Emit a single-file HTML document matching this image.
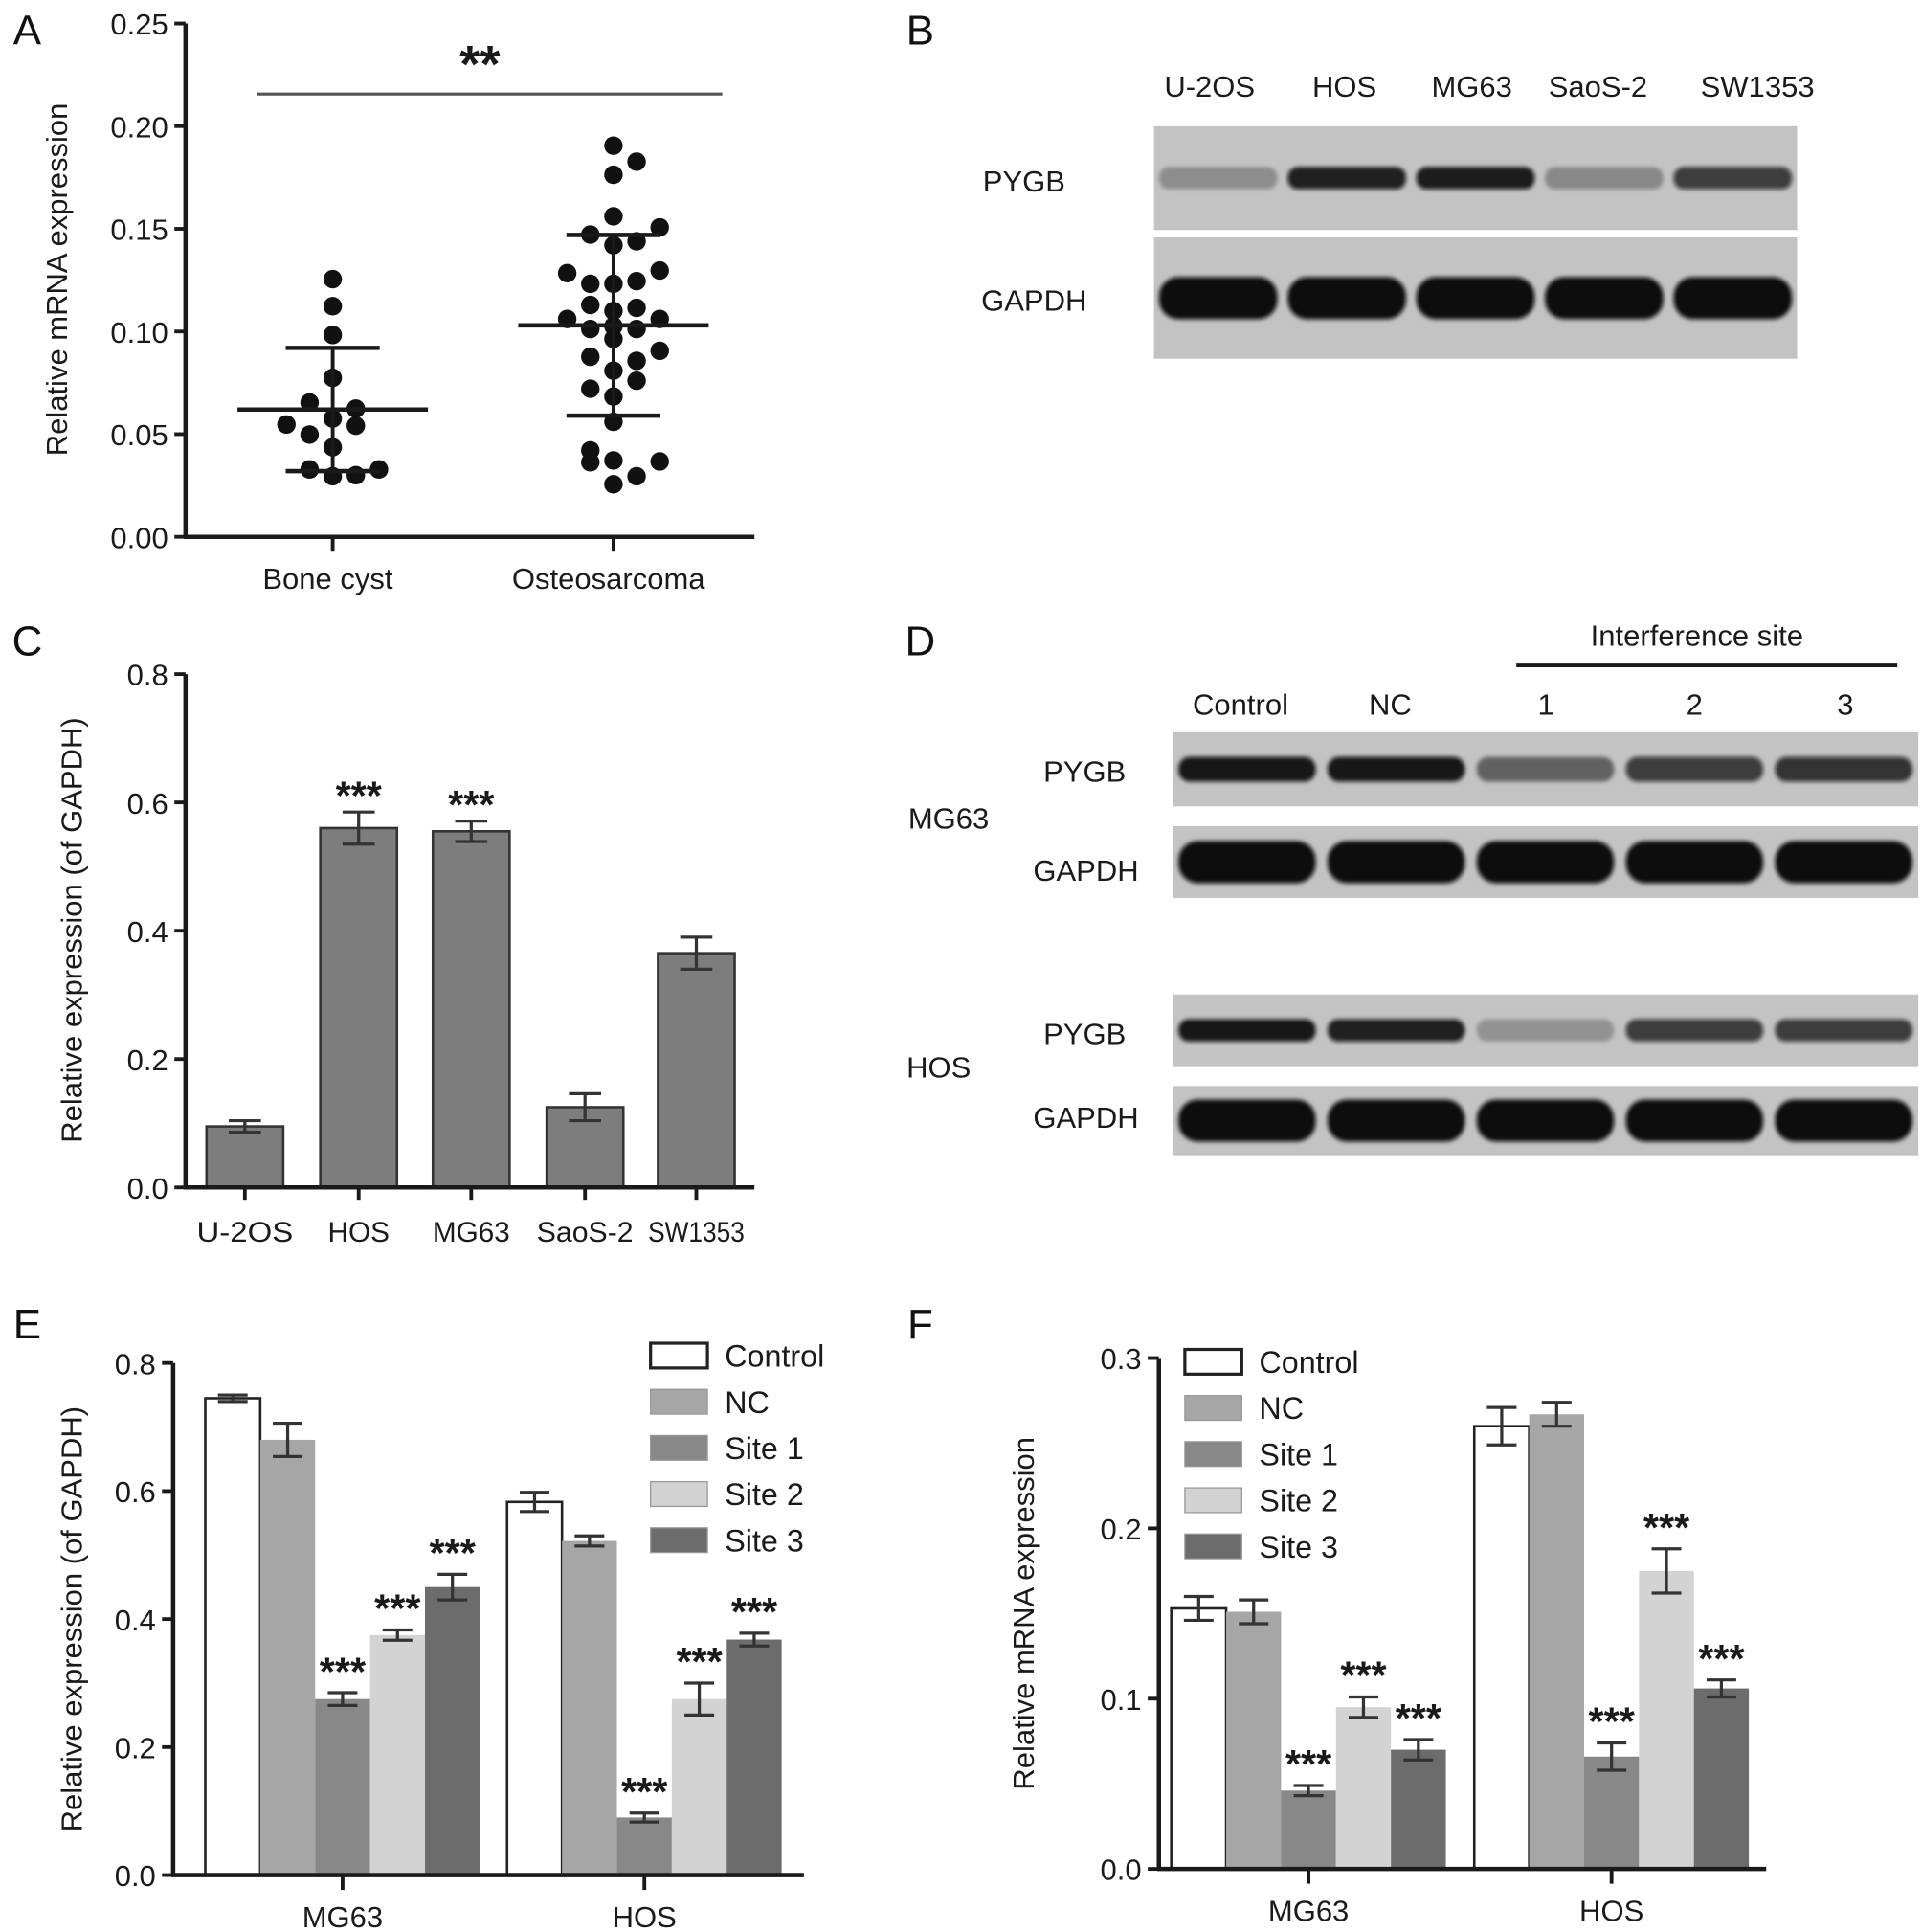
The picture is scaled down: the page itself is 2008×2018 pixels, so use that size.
<!DOCTYPE html>
<html><head><meta charset="utf-8"><style>
html,body{margin:0;padding:0;background:#fff;}
svg{display:block;font-family:"Liberation Sans",Arial,sans-serif;}
</style></head><body>
<svg id="fig" width="2008" height="2018" viewBox="0 0 1554 1562" preserveAspectRatio="none" xmlns="http://www.w3.org/2000/svg">
<defs><filter id="blur" x="-20%" y="-50%" width="140%" height="200%"><feGaussianBlur stdDeviation="1.6"/></filter></defs>
<g id="root"></g>
</svg>
<script>
// ---------- Panel A data ----------
const aCategories = ["Bone cyst","Osteosarcoma"];
const aBoneValues = [0.1255,0.1123,0.0983,0.0774,0.0654,0.0624,0.0576,0.0547,0.0541,0.0498,0.0436,0.0328,0.0328,0.0295,0.0300];
const aBoneSlots  = [0,0,0,0,-1,1,0,-2,1,-1,0,-1,2,0,1];
const aOsteoValues = [0.1905,0.1827,0.1763,0.1561,0.1507,0.1472,0.1439,0.1420,0.1284,0.1297,0.1232,0.1232,0.1245,0.1129,0.1100,0.1115,0.1061,0.1061,0.1012,0.1026,0.1012,0.0964,0.0877,0.0906,0.0857,0.0809,0.0760,0.0721,0.0683,0.0560,0.0421,0.0363,0.0372,0.0367,0.0295,0.0256];
const aOsteoSlots  = [0,1,0,0,2,-1,1,0,-2,2,-1,0,1,-1,0,1,-2,2,-1,0,1,0,-1,2,1,0,1,-1,0,0,-1,-1,0,2,1,0];
const aMeans = [0.062,0.103];
const aSdHigh = [0.092,0.147];
const aSdLow = [0.032,0.059];
const aTicks = ["0.00","0.05","0.10","0.15","0.20","0.25"];
// ---------- Panel C data ----------
const cCategories = ["U-2OS","HOS","MG63","SaoS-2","SW1353"];
const cValues = [0.095,0.560,0.555,0.125,0.365];
const cErrors = [0.009,0.025,0.016,0.021,0.025];
const cStars = ["","***","***","",""];
const cTicks = ["0.0","0.2","0.4","0.6","0.8"];
// ---------- Panel E data ----------
const groups = ["MG63","HOS"];
const seriesNames = ["Control","NC","Site 1","Site 2","Site 3"];
const eValues = [[0.745,0.680,0.275,0.375,0.450],[0.583,0.522,0.090,0.275,0.368]];
const eErrors = [[0.005,0.026,0.010,0.008,0.020],[0.015,0.008,0.007,0.025,0.010]];
const eTicks = ["0.0","0.2","0.4","0.6","0.8"];
// ---------- Panel F data ----------
const fValues = [[0.153,0.151,0.046,0.095,0.070],[0.260,0.267,0.066,0.175,0.106]];
const fErrors = [[0.007,0.007,0.003,0.006,0.006],[0.011,0.007,0.008,0.013,0.005]];
const fTicks = ["0.0","0.1","0.2","0.3"];
const starFlags = [0,0,1,1,1];
// ---------- Blots ----------
const bLanes = ["U-2OS","HOS","MG63","SaoS-2","SW1353"];
const bPygb = [0.28,0.9,0.92,0.3,0.75];
const bGapdh = [1,1,1,1,1];
const dLanes = ["Control","NC","1","2","3"];
const dMgPygb = [0.95,0.95,0.5,0.75,0.8];
const dMgGapdh = [1,1,1,1,1];
const dHosPygb = [0.95,0.9,0.25,0.75,0.75];
const dHosGapdh = [1,1,1,1,1];

const NS="http://www.w3.org/2000/svg";
const root=document.getElementById('root');
function mk(tag,attrs,parent,text){const e=document.createElementNS(NS,tag);for(const k in attrs)e.setAttribute(k,attrs[k]);if(text!==undefined)e.textContent=text;(parent||root).appendChild(e);return e;}
function grp(name,parent){const g=mk('g',{},parent);return g;}
function txt(parent,name,x,y,s,size,anchor,extra){const t=mk('text',Object.assign({x:x,y:y,'font-size':size,'text-anchor':anchor||'middle',fill:'#1a1a1a'},extra||{}),parent,s);return t;}
function line(p,x1,y1,x2,y2,w,c){return mk('line',{x1:x1,y1:y1,x2:x2,y2:y2,stroke:c||'#1a1a1a','stroke-width':w||3},p);}

[["A",22,36],["B",744,36],["C",22,530],["D",744,530],["E",22,1082],["F",744,1082]].forEach(l=>{txt(root,'panel-label-'+l[0].toLowerCase(),l[1],l[2],l[0],34,'middle',{fill:'#111'});});

function yAxis(g,x,y0,y1,ticks,tickVal,scale){
  line(g,x,y0+1.5,x,y1,3.5);
  ticks.forEach((t,i)=>{const y=scale(tickVal(i));line(g,x-9,y,x,y,3);txt(g,'y-tick-label',x-14,y+9,t,24,'end');});
}

// ===== Panel A =====
(function(){
  const g=grp('panel-a-scatter');
  const ax=150, y0=434, yTop=19, x1=610;
  const y=v=>y0-(v/0.25)*(y0-yTop);
  const xc=[269,496], slot=18.7;
  yAxis(g,ax,y0,yTop,aTicks,i=>i*0.05,y);
  line(g,ax-1.5,y0,x1,y0,3.5);
  aCategories.forEach((c,i)=>{line(g,xc[i],y0,xc[i],y0+12,3);txt(g,'x-tick-label',xc[i]-4,y0+42,c,24);});
  const at=txt(g,'y-axis-title',0,0,'Relative mRNA expression',24,'middle');at.setAttribute('transform','translate(54,226) rotate(-90)');
  line(g,208,76,584,76,2.5,'#555');
  txt(g,'significance-stars',388,66,'**',42,'middle',{'font-weight':'bold'});
  [[aBoneValues,aBoneSlots],[aOsteoValues,aOsteoSlots]].forEach((s,gi)=>{
    s[0].forEach((v,i)=>{const c=mk('circle',{cx:xc[gi]+s[1][i]*slot,cy:y(v),r:7.5,fill:'#111'},g);});
    line(g,xc[gi]-77,y(aMeans[gi]),xc[gi]+77,y(aMeans[gi]),3.5);
    line(g,xc[gi],y(aSdHigh[gi]),xc[gi],y(aSdLow[gi]),3);
    line(g,xc[gi]-38,y(aSdHigh[gi]),xc[gi]+38,y(aSdHigh[gi]),3.5);
    line(g,xc[gi]-38,y(aSdLow[gi]),xc[gi]+38,y(aSdLow[gi]),3.5);
  });
})();

// ===== Blots =====
function blot(g,name,x,y,w,h,vals,bandH){
  const bg=mk('rect',{x:x,y:y,width:w,height:h,fill:'#c3c3c3'},g);
  const lw=w/vals.length;
  vals.forEach((v,i)=>{const b=mk('rect',{x:x+i*lw+lw*0.04,y:y+h/2-bandH/2,width:lw*0.92,height:bandH,rx:bandH/2.2,fill:'#0a0a0a','fill-opacity':v,filter:'url(#blur)'},g);});
}
(function(){
  const g=grp('panel-b-blot');
  const xs=[978,1087,1190,1292,1421];
  bLanes.forEach((l,i)=>txt(g,'lane-label',xs[i],78,l,24));
  blot(g,'pygb-blot',933,102,520,84,bPygb,18);
  blot(g,'gapdh-blot',933,192,520,98,bGapdh,34);
  txt(g,'row-label-pygb',828,155,'PYGB',24);
  txt(g,'row-label-gapdh',836,251,'GAPDH',24);
})();
(function(){
  const g=grp('panel-d-blot');
  txt(g,'interference-site-label',1372,522,'Interference site',24);
  line(g,1226,538,1534,538,3);
  const xs=[1003,1124,1250,1370,1492];
  dLanes.forEach((l,i)=>txt(g,'lane-label',xs[i],578,l,24));
  blot(g,'mg63-pygb-blot',948,592,603,60,dMgPygb,20);
  blot(g,'mg63-gapdh-blot',948,668,603,58,dMgGapdh,34);
  blot(g,'hos-pygb-blot',948,804,603,58,dHosPygb,18);
  blot(g,'hos-gapdh-blot',948,878,603,56,dHosGapdh,34);
  txt(g,'row-label',877,632,'PYGB',24);
  txt(g,'row-label',878,712,'GAPDH',24);
  txt(g,'row-label',877,844,'PYGB',24);
  txt(g,'row-label',878,912,'GAPDH',24);
  txt(g,'cell-line-label',767,670,'MG63',24);
  txt(g,'cell-line-label',759,871,'HOS',24);
})();

function errBar(g,cx,yTop,yBot,hw){line(g,cx,yTop,cx,yBot,2.5,'#333');line(g,cx-hw,yTop,cx+hw,yTop,2.5,'#333');line(g,cx-hw,yBot,cx+hw,yBot,2.5,'#333');}

// ===== Panel C =====
(function(){
  const g=grp('panel-c-bars');
  const ax=150,y0=960,yTop=545,x1=610;
  const y=v=>y0-(v/0.8)*(y0-yTop);
  const xs=[198,290,381,473,563], bw=62;
  yAxis(g,ax,y0,yTop,cTicks,i=>i*0.2,y);
  cValues.forEach((v,i)=>{
    const r=mk('rect',{x:xs[i]-bw/2,y:y(v),width:bw,height:y0-y(v),fill:'#7d7d7d',stroke:'#333','stroke-width':2},g);
    errBar(g,xs[i],y(v+cErrors[i]),y(v-cErrors[i]),13);
    if(cStars[i])txt(g,'significance-stars',xs[i],y(v+cErrors[i])-2,cStars[i],32,'middle',{'font-weight':'bold'});
    line(g,xs[i],y0,xs[i],y0+10,3);
    txt(g,'x-tick-label',xs[i],y0+44,cCategories[i],23,'middle',{'textLength':cCategories[i].length>4?78:0,'lengthAdjust':'spacingAndGlyphs'});
  });
  g.querySelectorAll('text[textLength="0"]').forEach(t=>t.removeAttribute('textLength'));
  line(g,ax-1.5,y0,x1,y0,3.5);
  const at=txt(g,'y-axis-title',0,0,'Relative expression (of GAPDH)',24,'middle');at.setAttribute('transform','translate(66,752) rotate(-90)');
})();

const colors=['#ffffff','#a6a6a6','#888888','#d3d3d3','#6c6c6c'];
function groupedChart(name,ax,y0,yTop,x1,maxV,ticks,step,vals,errs,starts,bw,title,titleX,legendX,legendY){
  const g=grp(name);
  const y=v=>y0-(v/maxV)*(y0-yTop);
  yAxis(g,ax,y0,yTop,ticks,i=>i*step,y);
  vals.forEach((gv,gi)=>{
    gv.forEach((v,si)=>{
      const x=starts[gi]+si*bw;
      const r=mk('rect',{x:x,y:y(v),width:bw,height:y0-y(v),fill:colors[si],stroke:si===0?'#222':'none','stroke-width':2},g);
      
      
      errBar(g,x+bw/2,y(v+errs[gi][si]),y(v-errs[gi][si]),12);
      if(starFlags[si])txt(g,'significance-stars',x+bw/2,y(v+errs[gi][si])-6,'***',32,'middle',{'font-weight':'bold'});
    });
    const cx=starts[gi]+bw*2.5;
    line(g,cx,y0,cx,y0+12,3);
    txt(g,'x-tick-label',cx,y0+42,groups[gi],24);
  });
  line(g,ax-1.5,y0,x1,y0,3.5);
  const at=txt(g,'y-axis-title',0,0,title,24,'middle');at.setAttribute('transform','translate('+titleX+','+((y0+yTop)/2)+') rotate(-90)');
  const lg=grp('legend',g);
  seriesNames.forEach((s,i)=>{
    const ly=legendY+i*37.3;
    const r=mk('rect',{x:legendX,y:ly-10,width:46,height:20,fill:colors[i],stroke:i===0?'#222':'#999','stroke-width':i===0?2.5:1},lg);
    txt(lg,'legend-entry',legendX+60,ly+9,s,25,'start');
  });
}
groupedChart('panel-e-bars',140,1516,1102,650,0.8,eTicks,0.2,eValues,eErrors,[166,410],44.4,'Relative expression (of GAPDH)',66,526,1096);
groupedChart('panel-f-bars',937,1511,1098,1428,0.3,fTicks,0.1,fValues,fErrors,[947,1192],44.4,'Relative mRNA expression',836,958,1101);
</script>
</body></html>
